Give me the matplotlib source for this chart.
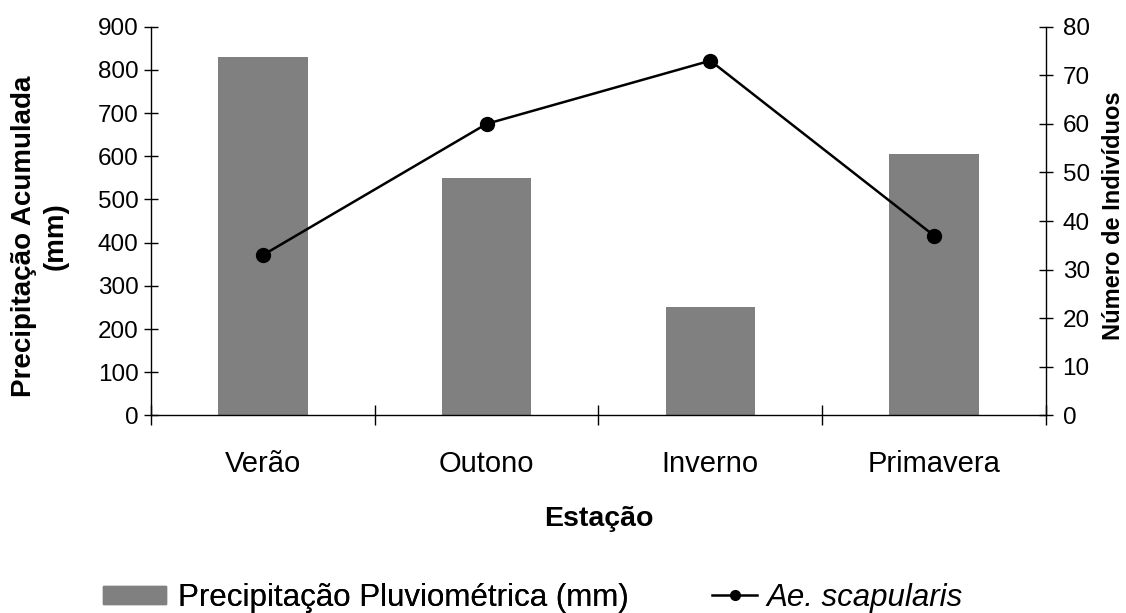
import matplotlib
matplotlib.use("Agg")
import matplotlib.pyplot as plt
from matplotlib.lines import Line2D
from matplotlib.patches import Patch
import numpy as np

plt.rcParams["font.family"] = ["Liberation Sans", "DejaVu Sans"]

estacoes = ["Verão", "Outono", "Inverno", "Primavera"]
precipitacao = [830, 550, 250, 605]
individuos = [33, 60, 73, 37]

BAR_COLOR = "#808080"

fig = plt.figure(figsize=(11.26, 6.13), dpi=100)
ax = fig.add_axes([0.1341, 0.3222, 0.7948, 0.6343])
x = np.arange(len(estacoes))

# precipitação (eixo esquerdo)
ax.bar(x, precipitacao, width=0.4, color=BAR_COLOR, zorder=1)
ax.set_xlim(-0.5, len(estacoes) - 0.5)
ax.set_ylim(0, 900)
ax.set_yticks(np.arange(0, 901, 100))
ax.tick_params(axis="y", direction="inout", length=10, width=1,
               labelsize=17.5, pad=4)

# marcas nas divisas entre categorias, rótulos no centro
ax.set_xticks(np.arange(-0.5, len(estacoes), 1.0))
ax.set_xticklabels([])
ax.set_xticks(x, minor=True)
ax.set_xticklabels(estacoes, minor=True)
ax.tick_params(axis="x", which="major", direction="inout", length=14, width=1)
ax.tick_params(axis="x", which="minor", length=0, labelsize=21, pad=25)

for side in ["left", "bottom"]:
    ax.spines[side].set_linewidth(1)
ax.spines["top"].set_visible(False)
ax.spines["right"].set_visible(False)

# número de indivíduos (eixo direito)
ax2 = ax.twinx()
ax2.plot(x, individuos, color="black", lw=1.8, marker="o", markersize=10,
         zorder=3)
ax2.set_ylim(0, 80)
ax2.set_yticks(np.arange(0, 81, 10))
ax2.tick_params(axis="y", direction="inout", length=10, width=1,
                labelsize=17.5, pad=7)
ax2.spines["top"].set_visible(False)
ax2.spines["left"].set_visible(False)
ax2.spines["bottom"].set_visible(False)
ax2.spines["right"].set_linewidth(1)

fig.text(0.5315, 1 - 526 / 613, "Estação", ha="center", va="baseline",
         fontsize=20.5, fontweight="bold")
fig.text(40 / 1126, 1 - 236 / 613, "Precipitação Acumulada\n(mm)",
         rotation=90, ha="center", va="center", multialignment="center",
         fontsize=20, fontweight="bold", linespacing=1.3)
fig.text(1113 / 1126, 1 - 216 / 613, "Número de Indivíduos", rotation=90,
         ha="center", va="center", fontsize=17, fontweight="bold")

# legendas
leg1 = fig.legend(handles=[Patch(color=BAR_COLOR)],
                  labels=["Precipitação Pluviométrica (mm)"],
                  loc="center left", bbox_to_anchor=(103 / 1126, 1 - 598 / 613),
                  frameon=False, fontsize=22.5, borderpad=0, borderaxespad=0,
                  handlelength=2.0, handleheight=0.55, handletextpad=0.4)
fig.add_artist(leg1)
fig.legend(handles=[Line2D([], [], color="black", lw=1.8, marker="o",
                           markersize=7)],
           labels=["Ae. scapularis"],
           loc="center left", bbox_to_anchor=(712 / 1126, 1 - 598 / 613),
           frameon=False, prop={"size": 22.5, "style": "italic"},
           borderpad=0, borderaxespad=0, handlelength=1.45, handletextpad=0.28)

fig.savefig("out.png", dpi=100)
